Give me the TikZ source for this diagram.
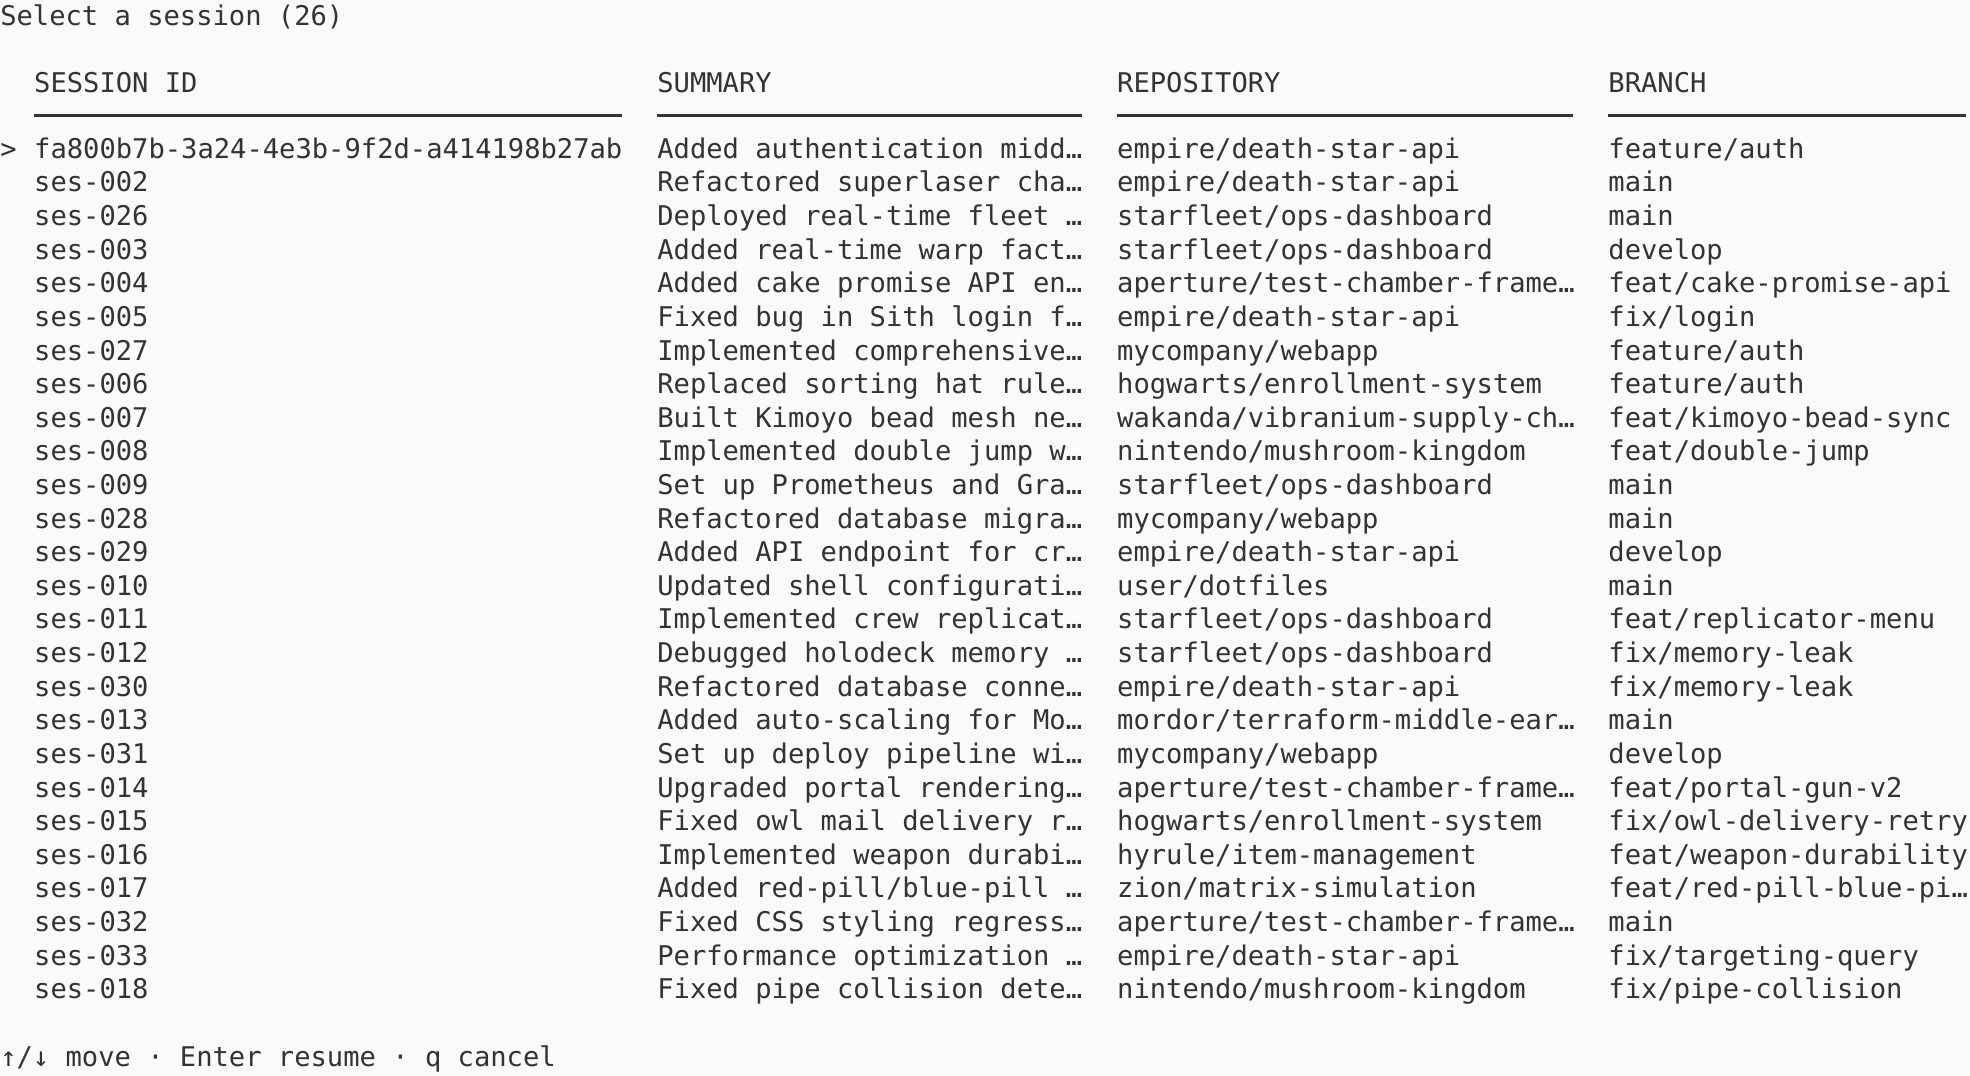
\documentclass[tikz,border=0pt]{standalone}
\usepackage{fontspec}
\setmonofont{DejaVu Sans Mono}
\definecolor{bg}{HTML}{FAFAFA}
\definecolor{fg}{HTML}{333333}
\begin{document}
\begin{tikzpicture}[x=1pt,y=-1pt,
  t/.style={anchor=base west,inner sep=0pt,text=fg,font=\ttfamily\fontsize{21.6}{24}\selectfont},
  rule/.style={draw=fg,line width=2.6pt}]
\fill[bg] (0,0) rectangle (1568,856);
\useasboundingbox (0,0) rectangle (1568,856);
\node[t] (title) at (0,20) {Select a session (26)};
\node[t] (h1) at (27,74) {SESSION ID};
\node[t] (h2) at (523,74) {SUMMARY};
\node[t] (h3) at (889,74) {REPOSITORY};
\node[t] (h4) at (1280,74) {BRANCH};
\draw[rule] (27,92) -- (495,92);
\draw[rule] (523,92) -- (861,92);
\draw[rule] (889,92) -- (1252,92);
\draw[rule] (1280,92) -- (1565,92);
\node[t] (sel) at (0,126) {>};
\foreach \i/\a/\b/\c/\d in {
0/fa800b7b-3a24-4e3b-9f2d-a414198b27ab/Added authentication midd…/empire\slash death-star-api/feature\slash auth,
1/ses-002/Refactored superlaser cha…/empire\slash death-star-api/main,
2/ses-026/Deployed real-time fleet …/starfleet\slash ops-dashboard/main,
3/ses-003/Added real-time warp fact…/starfleet\slash ops-dashboard/develop,
4/ses-004/Added cake promise API en…/aperture\slash test-chamber-frame…/feat\slash cake-promise-api,
5/ses-005/Fixed bug in Sith login f…/empire\slash death-star-api/fix\slash login,
6/ses-027/Implemented comprehensive…/mycompany\slash webapp/feature\slash auth,
7/ses-006/Replaced sorting hat rule…/hogwarts\slash enrollment-system/feature\slash auth,
8/ses-007/Built Kimoyo bead mesh ne…/wakanda\slash vibranium-supply-ch…/feat\slash kimoyo-bead-sync,
9/ses-008/Implemented double jump w…/nintendo\slash mushroom-kingdom/feat\slash double-jump,
10/ses-009/Set up Prometheus and Gra…/starfleet\slash ops-dashboard/main,
11/ses-028/Refactored database migra…/mycompany\slash webapp/main,
12/ses-029/Added API endpoint for cr…/empire\slash death-star-api/develop,
13/ses-010/Updated shell configurati…/user\slash dotfiles/main,
14/ses-011/Implemented crew replicat…/starfleet\slash ops-dashboard/feat\slash replicator-menu,
15/ses-012/Debugged holodeck memory …/starfleet\slash ops-dashboard/fix\slash memory-leak,
16/ses-030/Refactored database conne…/empire\slash death-star-api/fix\slash memory-leak,
17/ses-013/Added auto-scaling for Mo…/mordor\slash terraform-middle-ear…/main,
18/ses-031/Set up deploy pipeline wi…/mycompany\slash webapp/develop,
19/ses-014/Upgraded portal rendering…/aperture\slash test-chamber-frame…/feat\slash portal-gun-v2,
20/ses-015/Fixed owl mail delivery r…/hogwarts\slash enrollment-system/fix\slash owl-delivery-retry,
21/ses-016/Implemented weapon durabi…/hyrule\slash item-management/feat\slash weapon-durability,
22/ses-017/Added red-pill\slash blue-pill …/zion\slash matrix-simulation/feat\slash red-pill-blue-pi…,
23/ses-032/Fixed CSS styling regress…/aperture\slash test-chamber-frame…/main,
24/ses-033/Performance optimization …/empire\slash death-star-api/fix\slash targeting-query,
25/ses-018/Fixed pipe collision dete…/nintendo\slash mushroom-kingdom/fix\slash pipe-collision}{
  \pgfmathsetmacro{\yy}{126+26.76*\i}
  \node[t] (a\i) at (27,\yy) {\a};
  \node[t] (b\i) at (523,\yy) {\b};
  \node[t] (c\i) at (889,\yy) {\c};
  \node[t] (d\i) at (1280,\yy) {\d};
}
\node[t] (foot) at (0,849) {↑/↓ move · Enter resume · q cancel};
\end{tikzpicture}
\end{document}
